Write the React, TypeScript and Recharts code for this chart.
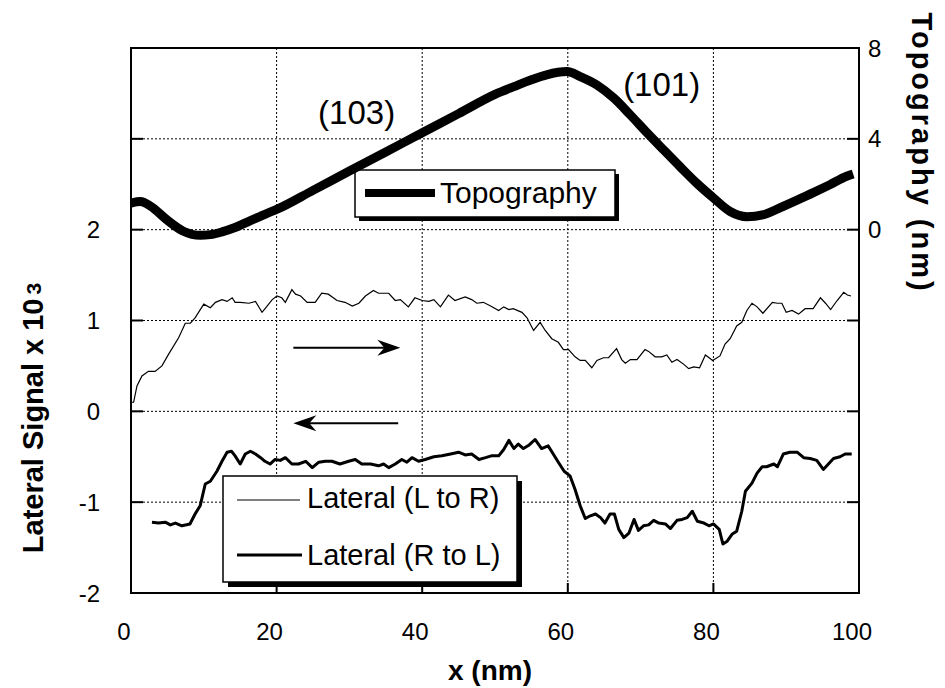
import React from 'react';
import {
  ComposedChart,
  Line,
  XAxis,
  YAxis,
  CartesianGrid,
  ReferenceLine,
  ReferenceDot,
  Customized,
} from 'recharts';

const FONT = '"Liberation Sans", Arial, Helvetica, sans-serif';

// ---------- axis ticks ----------
const xTicks = [0, 20, 40, 60, 80, 100];
const xTopTicks = [20, 40, 60, 80];
const leftTicks = [-2, -1, 0, 1, 2, 3, 4];
const leftTickLabels = [-2, -1, 0, 1, 2];
const rightTicks = [-16, -12, -8, -4, 0, 4, 8];
const rightTickLabels = [0, 4, 8];

// ---------- series names ----------
const topoName = 'Topography';
const lrName = 'Lateral (L to R)';
const rlName = 'Lateral (R to L)';

// ---------- data: [x (nm), value] ----------
// Topography (nm), right axis
const topography: [number, number][] = [
  [0, 1.17], [1.3, 1.24], [2.7, 1.03], [4.9, 0.44], [7.2, -0.07], [9.5, -0.25],
  [10.9, -0.22], [12.5, -0.1], [14.1, 0.07], [16.4, 0.4], [18.7, 0.72], [20, 0.89],
  [25, 1.73], [30, 2.58], [35, 3.42], [40, 4.27], [45, 5.11], [50, 5.96],
  [52.6, 6.3], [55, 6.6], [57.1, 6.82], [59.9, 6.96], [61.7, 6.74], [64, 6.37],
  [66.3, 5.8], [68.6, 5.05], [70.9, 4.26], [73.2, 3.5], [75.4, 2.78], [77.7, 2.05],
  [80, 1.4], [82.3, 0.8], [84.6, 0.57], [86.9, 0.66], [89.2, 0.97], [91.5, 1.3],
  [93.8, 1.64], [96, 1.98], [98.3, 2.35], [99.2, 2.45],
];

// Lateral signal L to R (x 10^3), left axis
const lateralLR: [number, number][] = [
  [0.04, 0.1], [0.36, 0.1], [0.82, 0.28], [1.5, 0.39], [2.4, 0.44], [3.3, 0.44],
  [4.25, 0.5], [5.17, 0.63], [6.54, 0.81], [7.46, 0.97], [8.15, 0.97], [8.8, 1.03],
  [10.0, 1.18], [10.9, 1.14], [11.6, 1.2], [12.5, 1.23], [13.2, 1.21], [13.9, 1.25],
  [14.3, 1.2], [15.0, 1.2], [16.2, 1.19], [17.1, 1.21], [18.0, 1.09], [18.5, 1.14],
  [19.4, 1.23], [20.05, 1.27], [20.7, 1.25], [21.2, 1.2], [22.1, 1.34], [22.6, 1.29],
  [23.3, 1.27], [24.2, 1.2], [25.3, 1.2], [26.2, 1.3], [27.1, 1.29], [28.3, 1.22],
  [29.4, 1.2], [30.4, 1.16], [31.3, 1.19], [32.2, 1.27], [33.3, 1.33], [34.0, 1.3],
  [35.4, 1.3], [36.3, 1.22], [37.0, 1.23], [38.1, 1.15], [39.0, 1.25], [40.0, 1.22],
  [40.9, 1.21], [41.6, 1.23], [42.5, 1.15], [43.6, 1.28], [44.5, 1.22], [45.9, 1.26],
  [46.8, 1.23], [47.5, 1.19], [48.4, 1.2], [49.4, 1.16], [50.5, 1.11], [51.2, 1.15],
  [51.9, 1.12], [52.5, 1.13], [53.7, 1.09], [54.4, 1.03], [55.3, 0.89], [56.2, 0.98],
  [56.9, 0.89], [57.8, 0.8], [58.7, 0.76], [59.4, 0.68], [60.1, 0.68], [61.0, 0.6],
  [61.7, 0.56], [62.4, 0.56], [63.3, 0.48], [64.0, 0.56], [64.9, 0.59], [65.6, 0.59],
  [66.7, 0.69], [67.4, 0.57], [67.9, 0.53], [68.6, 0.57], [69.5, 0.57], [70.6, 0.68],
  [71.1, 0.66], [72.0, 0.6], [72.9, 0.6], [73.6, 0.62], [74.3, 0.54], [75.0, 0.57],
  [75.9, 0.52], [76.6, 0.47], [77.3, 0.49], [78.1, 0.48], [78.9, 0.62], [79.9, 0.56],
  [80.9, 0.61], [81.6, 0.74], [82.3, 0.8], [83.2, 0.94], [83.9, 0.98], [84.6, 1.11],
  [85.3, 1.19], [86.0, 1.15], [86.8, 1.08], [88.1, 1.2], [88.8, 1.19], [89.4, 1.19],
  [90.0, 1.09], [90.8, 1.11], [91.7, 1.07], [92.6, 1.13], [93.7, 1.13], [94.7, 1.25],
  [95.4, 1.19], [96.1, 1.12], [97.0, 1.22], [97.9, 1.31], [98.4, 1.28], [98.9, 1.27],
];

// Lateral signal R to L (x 10^3), left axis
const lateralRL: [number, number][] = [
  [2.88, -1.22], [3.8, -1.23], [4.7, -1.22], [5.4, -1.25], [6.1, -1.23], [7.0, -1.26],
  [8.1, -1.24], [8.8, -1.13], [9.5, -1.04], [10.2, -0.8], [10.9, -0.77], [11.8, -0.66],
  [12.5, -0.55], [13.2, -0.45], [13.8, -0.44], [14.3, -0.49], [15.0, -0.58], [15.7, -0.47],
  [16.4, -0.44], [17.1, -0.47], [17.8, -0.51], [18.4, -0.55], [19.1, -0.58], [19.8, -0.53],
  [20.5, -0.54], [21.2, -0.51], [22.1, -0.58], [23.0, -0.58], [24.0, -0.55], [24.9, -0.62],
  [25.8, -0.56], [26.7, -0.55], [27.6, -0.55], [28.7, -0.58], [29.9, -0.55], [30.8, -0.53],
  [31.7, -0.58], [32.9, -0.58], [34.0, -0.6], [34.7, -0.58], [35.4, -0.62], [36.3, -0.58],
  [37.2, -0.53], [37.9, -0.56], [38.6, -0.51], [39.5, -0.55], [40.4, -0.53], [41.6, -0.5],
  [42.7, -0.49], [43.9, -0.47], [45.0, -0.45], [45.9, -0.48], [46.8, -0.47], [47.8, -0.53],
  [48.7, -0.51], [49.5, -0.49], [50.5, -0.49], [51.2, -0.42], [51.9, -0.32], [52.6, -0.41],
  [53.2, -0.36], [53.9, -0.41], [54.7, -0.37], [55.5, -0.31], [56.4, -0.41], [57.3, -0.38],
  [58.0, -0.47], [58.7, -0.56], [59.5, -0.66], [60.3, -0.71], [61.0, -0.86], [61.7, -1.04],
  [62.4, -1.18], [63.1, -1.15], [63.8, -1.13], [64.5, -1.17], [65.1, -1.23], [65.8, -1.13],
  [66.4, -1.13], [67.0, -1.3], [67.7, -1.39], [68.4, -1.34], [69.1, -1.19], [69.7, -1.31],
  [70.4, -1.26], [71.1, -1.25], [71.8, -1.2], [72.5, -1.23], [73.4, -1.24], [74.1, -1.29],
  [75.0, -1.2], [75.7, -1.19], [76.4, -1.17], [77.1, -1.1], [77.8, -1.21], [78.7, -1.23],
  [79.4, -1.26], [80.0, -1.24], [80.8, -1.3], [81.3, -1.46], [81.9, -1.43], [82.6, -1.35],
  [83.2, -1.32], [83.9, -1.1], [84.4, -0.88], [85.3, -0.79], [86.0, -0.68], [86.7, -0.61],
  [87.3, -0.61], [88.3, -0.58], [88.8, -0.61], [89.6, -0.47], [90.5, -0.45], [91.5, -0.45],
  [92.4, -0.51], [93.3, -0.52], [94.2, -0.54], [95.1, -0.64], [95.8, -0.58], [96.5, -0.52],
  [97.4, -0.5], [98.1, -0.47], [99.0, -0.47],
];

// ---------- annotations (data coordinates) ----------
const facetLabels = [
  { text: '(103)', x: 25.7, y: 3.16 },
  { text: '(101)', x: 67.6, y: 3.47 },
];
const arrowRight = { x1: 22.3, x2: 35.5, tip: 37.0, y: 0.7 };
const arrowLeft = { x1: 36.7, x2: 23.8, tip: 22.3, y: -0.13 };

const toRows = (arr: [number, number][]) => arr.map(([x, y]) => ({ x, y }));
const topoData = toRows(topography);
const lrData = toRows(lateralLR);
const rlData = toRows(lateralRL);

// ---------- tick renderers ----------
const LeftTick = (p: any) => {
  const { x, y, payload } = p;
  return (
    <g>
      <line x1={x} x2={x + 12} y1={y} y2={y} stroke="#000" strokeWidth={2} />
      {leftTickLabels.includes(payload.value) && (
        <text x={x - 31} y={y} dy="0.36em" textAnchor="end" fontFamily={FONT} fontSize={24} fill="#000" stroke="none">
          {String(payload.value)}
        </text>
      )}
    </g>
  );
};

const RightTick = (p: any) => {
  const { x, y, payload } = p;
  return (
    <g>
      <line x1={x - 12} x2={x} y1={y} y2={y} stroke="#000" strokeWidth={2} />
      {rightTickLabels.includes(payload.value) && (
        <text x={x + 9} y={y} dy="0.36em" textAnchor="start" fontFamily={FONT} fontSize={24} fill="#000" stroke="none">
          {String(payload.value)}
        </text>
      )}
    </g>
  );
};

const BottomTick = (p: any) => {
  const { x, y, payload } = p;
  return (
    <g>
      <line x1={x} x2={x} y1={y - 10} y2={y} stroke="#000" strokeWidth={2} />
      <text x={x - 7} y={y + 47} textAnchor="middle" fontFamily={FONT} fontSize={24} fill="#000" stroke="none">
        {String(payload.value)}
      </text>
    </g>
  );
};

const TopTick = (p: any) => {
  const { x, y } = p;
  return (
    <g>
      <line x1={x} x2={x} y1={y} y2={y + 10} stroke="#000" strokeWidth={2} />
    </g>
  );
};

// ---------- arrowheads / labels as reference-dot shapes ----------
const HeadRight = (p: any) => {
  const { cx, cy } = p;
  return (
    <polygon
      points={`${cx},${cy} ${cx - 23},${cy - 8} ${cx - 16},${cy} ${cx - 23},${cy + 8}`}
      fill="#000"
    />
  );
};
const HeadLeft = (p: any) => {
  const { cx, cy } = p;
  return (
    <polygon
      points={`${cx},${cy} ${cx + 23},${cy - 8} ${cx + 16},${cy} ${cx + 23},${cy + 8}`}
      fill="#000"
    />
  );
};
const makeTextShape = (t: string) => (p: any) => (
  <text x={p.cx} y={p.cy} textAnchor="start" fontFamily={FONT} fontSize={33} fill="#000">
    {t}
  </text>
);

// ---------- frame, legends & titles ----------
const Decorations = (props: any) => {
  const off = props && props.offset;
  const fx = off && typeof off.left === 'number' ? off.left : 131;
  const fy = off && typeof off.top === 'number' ? off.top : 48;
  const fw = off && typeof off.width === 'number' ? off.width : 728;
  const fh = off && typeof off.height === 'number' ? off.height : 545;
  return (
    <g fontFamily={FONT} fill="#000">
      {/* plot frame */}
      <rect x={fx} y={fy} width={fw} height={fh} fill="none" stroke="#000" strokeWidth={2} />

      {/* Topography legend */}
      <rect x={359} y={174} width={260} height={47} fill="#000" />
      <rect x={355} y={170} width={260} height={47} fill="#fff" stroke="#000" strokeWidth={1.5} />
      <line x1={365} x2={435} y1={193} y2={193} stroke="#000" strokeWidth={8} />
      <text x={440} y={203} fontSize={30} fill="#000">{topoName}</text>

      {/* Lateral legend */}
      <rect x={228} y={481} width={294} height={106} fill="#000" />
      <rect x={223} y={476} width={294} height={106} fill="#fff" stroke="#000" strokeWidth={1.5} />
      <line x1={237} x2={300} y1={500} y2={500} stroke="#000" strokeWidth={1.2} />
      <text x={307} y={508} fontSize={29} fill="#000">{lrName}</text>
      <line x1={237} x2={302} y1={555} y2={555} stroke="#000" strokeWidth={3} />
      <text x={307} y={565} fontSize={29} fill="#000">{rlName}</text>

      {/* Axis titles */}
      <text x={490} y={680} textAnchor="middle" fontSize={28} fontWeight="bold" fill="#000">
        x (nm)
      </text>
      <text
        transform="translate(43,418) rotate(-90)"
        textAnchor="middle"
        fontSize={29}
        fontWeight="bold"
        fill="#000"
      >
        Lateral Signal x 10<tspan fontSize={21} dx={4} dy={-2}>3</tspan>
      </text>
      <text
        transform="translate(912,153) rotate(90)"
        textAnchor="middle"
        fontSize={29}
        fontWeight="bold"
        letterSpacing={3}
        fill="#000"
      >
        Topography (nm)
      </text>
    </g>
  );
};

export default function App() {
  const axisLine = { stroke: '#000', strokeWidth: 2 };
  return (
    <div style={{ position: 'absolute', left: 0, top: 0, width: 945, height: 688, background: '#fff' }}>
      <ComposedChart width={945} height={688} margin={{ top: 48, right: 0, bottom: 0, left: 0 }}>
        <CartesianGrid
          xAxisId="bottom"
          yAxisId="left"
          stroke="#000"
          strokeDasharray="2 2"
          strokeWidth={1}
        />
        <XAxis
          xAxisId="bottom"
          type="number"
          dataKey="x"
          domain={[0, 100]}
          ticks={xTicks}
          interval={0}
          height={95}
          tickSize={0}
          tickMargin={0}
          tickLine={false}
          tick={BottomTick}
          axisLine={axisLine}
          stroke="#000"
          allowDataOverflow
        />
        <XAxis
          xAxisId="top"
          orientation="top"
          type="number"
          dataKey="x"
          domain={[0, 100]}
          ticks={xTopTicks}
          interval={0}
          height={0}
          tickSize={0}
          tickMargin={0}
          tickLine={false}
          tick={TopTick}
          axisLine={axisLine}
          stroke="#000"
          allowDataOverflow
        />
        <YAxis
          yAxisId="left"
          type="number"
          domain={[-2, 4]}
          ticks={leftTicks}
          interval={0}
          width={131}
          tickSize={0}
          tickMargin={0}
          tickLine={false}
          tick={LeftTick}
          axisLine={axisLine}
          stroke="#000"
          allowDataOverflow
        />
        <YAxis
          yAxisId="right"
          orientation="right"
          type="number"
          domain={[-16, 8]}
          ticks={rightTicks}
          interval={0}
          width={86}
          tickSize={0}
          tickMargin={0}
          tickLine={false}
          tick={RightTick}
          axisLine={axisLine}
          stroke="#000"
          allowDataOverflow
        />

        <Line
          xAxisId="bottom"
          yAxisId="left"
          data={lrData}
          dataKey="y"
          name={lrName}
          type="linear"
          stroke="#000"
          strokeWidth={1.2}
          dot={false}
          isAnimationActive={false}
        />
        <Line
          xAxisId="bottom"
          yAxisId="left"
          data={rlData}
          dataKey="y"
          name={rlName}
          type="linear"
          stroke="#000"
          strokeWidth={3}
          strokeLinejoin="round"
          dot={false}
          isAnimationActive={false}
        />
        <Line
          xAxisId="bottom"
          yAxisId="right"
          data={topoData}
          dataKey="y"
          name={topoName}
          type="monotone"
          stroke="#000"
          strokeWidth={9}
          strokeLinejoin="round"
          dot={false}
          isAnimationActive={false}
        />

        <ReferenceLine
          xAxisId="bottom"
          yAxisId="left"
          segment={[{ x: arrowRight.x1, y: arrowRight.y }, { x: arrowRight.x2, y: arrowRight.y }]}
          stroke="#000"
          strokeWidth={2}
        />
        <ReferenceDot xAxisId="bottom" yAxisId="left" x={arrowRight.tip} y={arrowRight.y} r={1} shape={HeadRight} />
        <ReferenceLine
          xAxisId="bottom"
          yAxisId="left"
          segment={[{ x: arrowLeft.x1, y: arrowLeft.y }, { x: arrowLeft.x2, y: arrowLeft.y }]}
          stroke="#000"
          strokeWidth={2}
        />
        <ReferenceDot xAxisId="bottom" yAxisId="left" x={arrowLeft.tip} y={arrowLeft.y} r={1} shape={HeadLeft} />

        {facetLabels.map((f) => (
          <ReferenceDot
            key={f.text}
            xAxisId="bottom"
            yAxisId="left"
            x={f.x}
            y={f.y}
            r={1}
            shape={makeTextShape(f.text)}
          />
        ))}

        <Customized component={Decorations} />
      </ComposedChart>
    </div>
  );
}
